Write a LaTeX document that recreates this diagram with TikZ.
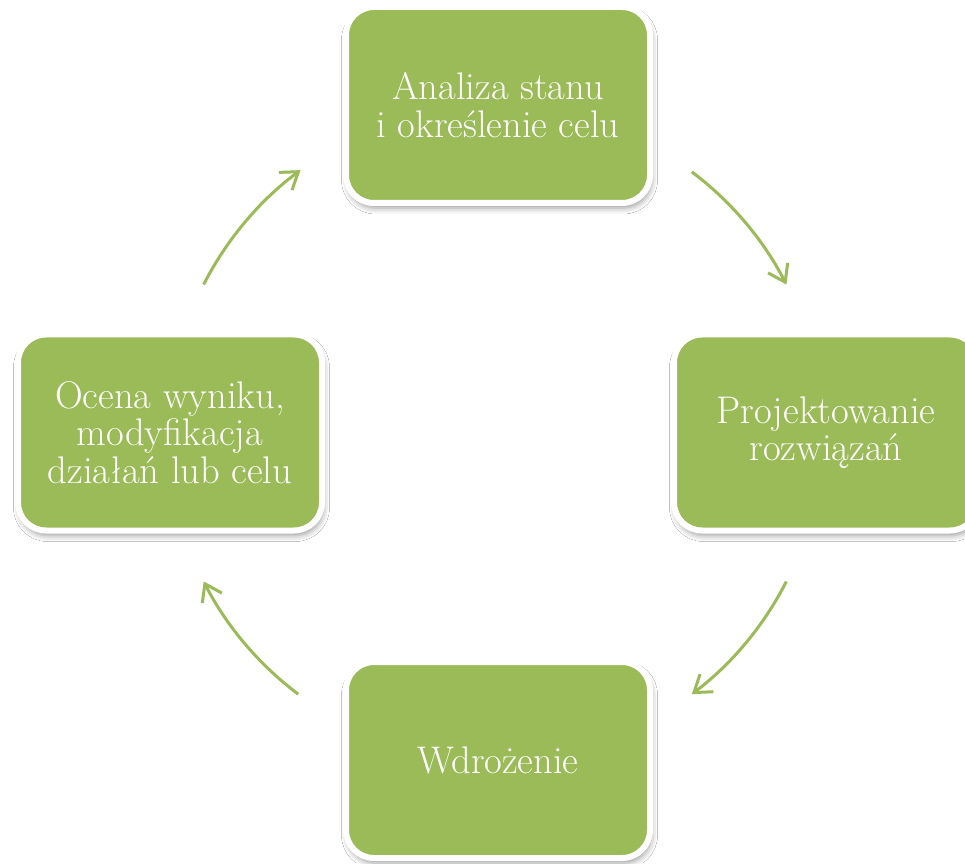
\documentclass[tikz,border=0pt]{standalone}
\usetikzlibrary{arrows.meta,calc,shadows.blur}
\definecolor{leaf}{HTML}{9BBB59}
\tikzset{
  x=1pt, y=1pt,
  stage/.style={
    rectangle, rounded corners=28pt,
    minimum width=304pt, minimum height=196pt,
    fill=leaf, draw=white, line width=6pt,
    text=white, align=center,
    font=\fontsize{38.5}{37.5}\selectfont,
    blur shadow={shadow xshift=1.5pt, shadow yshift=-5pt,
                 shadow opacity=40, shadow blur radius=6pt}
  },
  cycle arrow/.style={
    draw=leaf, line width=3pt,
    -{Straight Barb[length=16pt,width=22pt,line width=3pt]}
  }
}
\begin{document}
\begin{tikzpicture}
  \fill[white] (0,0) rectangle (965,863);
  \useasboundingbox (0,0) rectangle (965,863);
  \clip (0,0) rectangle (965,863);

  % the four stages of the cycle
  \node[stage] (analiza) at (498,758) {Analiza stanu\\i określenie celu};
  \node[stage] (projekt) at (826,430.5) {Projektowanie\\rozwiązań};
  \node[stage] (wdroz)   at (498,103) {Wdrożenie};
  \node[stage] (ocena)   at (170,430.5) {Ocena wyniku,\\modyfikacja\\działań lub celu};

  % centre of the circle carrying the arrows
  \coordinate (c) at (495,430);

  \coordinate (a1s) at ($(c)+(53:327)$);
  \coordinate (a2s) at ($(c)+(-27:327)$);
  \coordinate (a3s) at ($(c)+(-127:327)$);
  \coordinate (a4s) at ($(c)+(153:327)$);

  \draw[cycle arrow] (a1s) arc[start angle=53,   end angle=27,    radius=327];
  \draw[cycle arrow] (a2s) arc[start angle=-27,  end angle=-53,   radius=327];
  \draw[cycle arrow] (a3s) arc[start angle=-127, end angle=-153,  radius=327];
  \draw[cycle arrow] (a4s) arc[start angle=153,  end angle=126.5, radius=327];
\end{tikzpicture}
\end{document}
